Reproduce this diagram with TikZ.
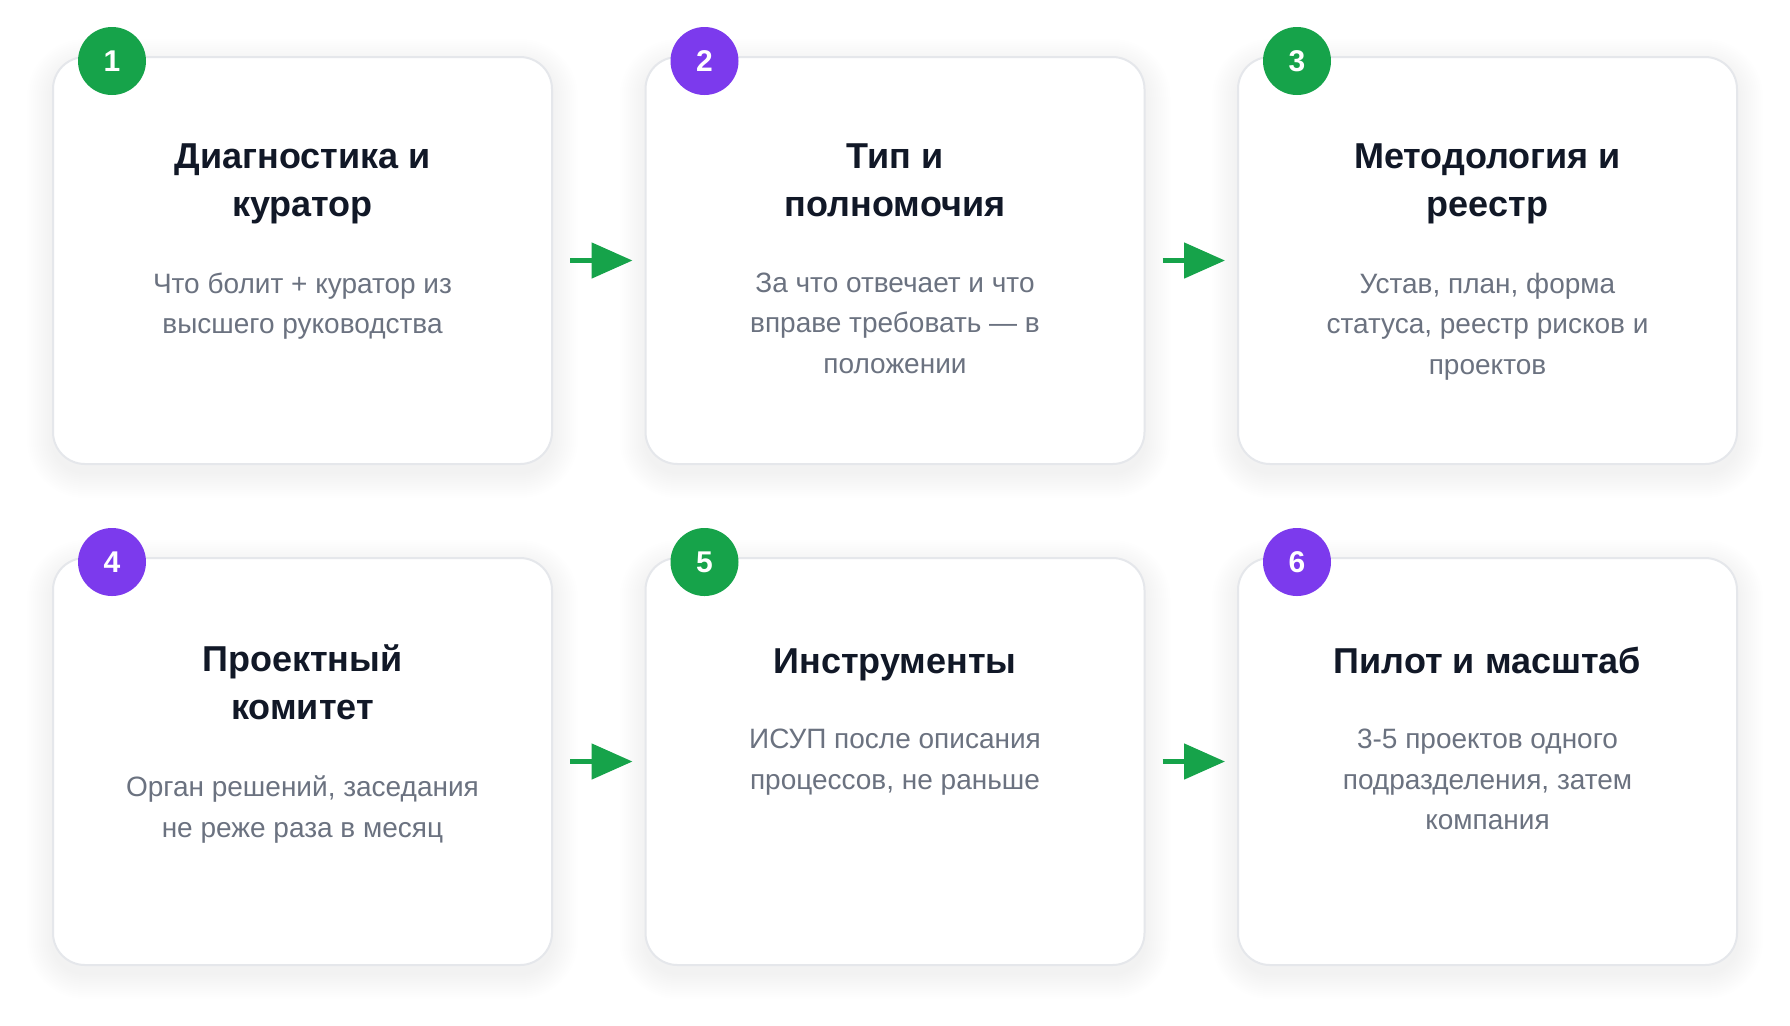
\documentclass[tikz,border=0pt]{standalone}
\usepackage{fontspec}
\setmainfont{Liberation Sans}
\usetikzlibrary{positioning,arrows.meta}
\definecolor{stepgreen}{HTML}{16A34A}
\definecolor{steppurple}{HTML}{7C3AED}
\definecolor{titlegray}{HTML}{111827}
\definecolor{textgray}{HTML}{6B7280}
\definecolor{bordergray}{HTML}{E5E7EB}
\begin{document}
\begin{tikzpicture}
[x=0.5pt,y=-0.5pt,
  carddecorate/.style={shape=rectangle,draw=bordergray,line width=1pt,fill=white,
    rounded corners=16pt,minimum width=249.5pt,minimum height=203.5pt,inner sep=0pt},
  shadowdecorate/.style={fill=titlegray,opacity=0.0035},
  badgedecorate/.style={shape=circle,fill=#1,minimum size=34pt,inner sep=0pt,
    text=white,font=\fontsize{15}{18}\selectfont\bfseries},
  titledecorate/.style={align=center,inner sep=0pt,text depth=0pt,text=titlegray,
    font=\fontsize{18}{24}\selectfont\bfseries,
    execute at begin node={\rule{0pt}{14pt}}},
  textdecorate/.style={align=center,inner sep=0pt,text=textgray,
    font=\fontsize{14}{20.25}\selectfont,
    execute at begin node={\rule{0pt}{10.7pt}}},
  arrowdecorate/.style={-{Triangle[length=20.5pt,width=17.5pt]},line width=2.5pt,
    draw=stepgreen}]
\useasboundingbox (0,0) rectangle (1790,1025);
\fill[white] (0,0) rectangle (1790,1025);
%% cards with soft shadows
\foreach \nodename/\x/\y in {c1/302.5/260.5, c2/895/260.5, c3/1487.5/260.5,
  c4/302.5/761.5, c5/895/761.5, c6/1487.5/761.5} {
  \foreach \k in {1,...,13} {
    \fill[shadowdecorate,rounded corners=16pt+\k pt]
      (\x-249.5-2*\k,\y-195.5-2*\k) rectangle (\x+249.5+2*\k,\y+211.5+2*\k);
  }
  \node (\nodename) at (\x,\y) [carddecorate] {};
}
%% number badges
\foreach \nodename/\num/\col in {c1/1/stepgreen, c2/2/steppurple, c3/3/stepgreen,
  c4/4/steppurple, c5/5/stepgreen, c6/6/steppurple} {
  \node (b\num) at ([xshift=30pt,yshift=-2.5pt]\nodename.north west)
    [badgedecorate=\col] {\num};
}
%% titles and texts
\foreach \nodename/\title/\text in {
  c1/{Диагностика и\\куратор}/{Что болит + куратор из\\высшего руководства},
  c2/{Тип и\\полномочия}/{За что отвечает и что\\вправе требовать — в\\положении},
  c3/{Методология и\\реестр}/{Устав, план, форма\\статуса, реестр рисков и\\проектов},
  c4/{Проектный\\комитет}/{Орган решений, заседания\\не реже раза в месяц},
  c5/{Инструменты}/{ИСУП после описания\\процессов, не раньше},
  c6/{Пилот и масштаб}/{3-5 проектов одного\\подразделения, затем\\компания}} {
  \node (t\nodename) [titledecorate,below=43.8pt of \nodename.north] {\title};
  \node (d\nodename) [textdecorate,below=27.6pt of t\nodename] {\text};
}
%% arrows
\foreach \startnode/\endnode in {c1/c2, c2/c3, c4/c5, c5/c6} {
  \draw[arrowdecorate] ([xshift=8.5pt]\startnode.east) -- ([xshift=-6pt]\endnode.west);
}
\end{tikzpicture}
\end{document}
